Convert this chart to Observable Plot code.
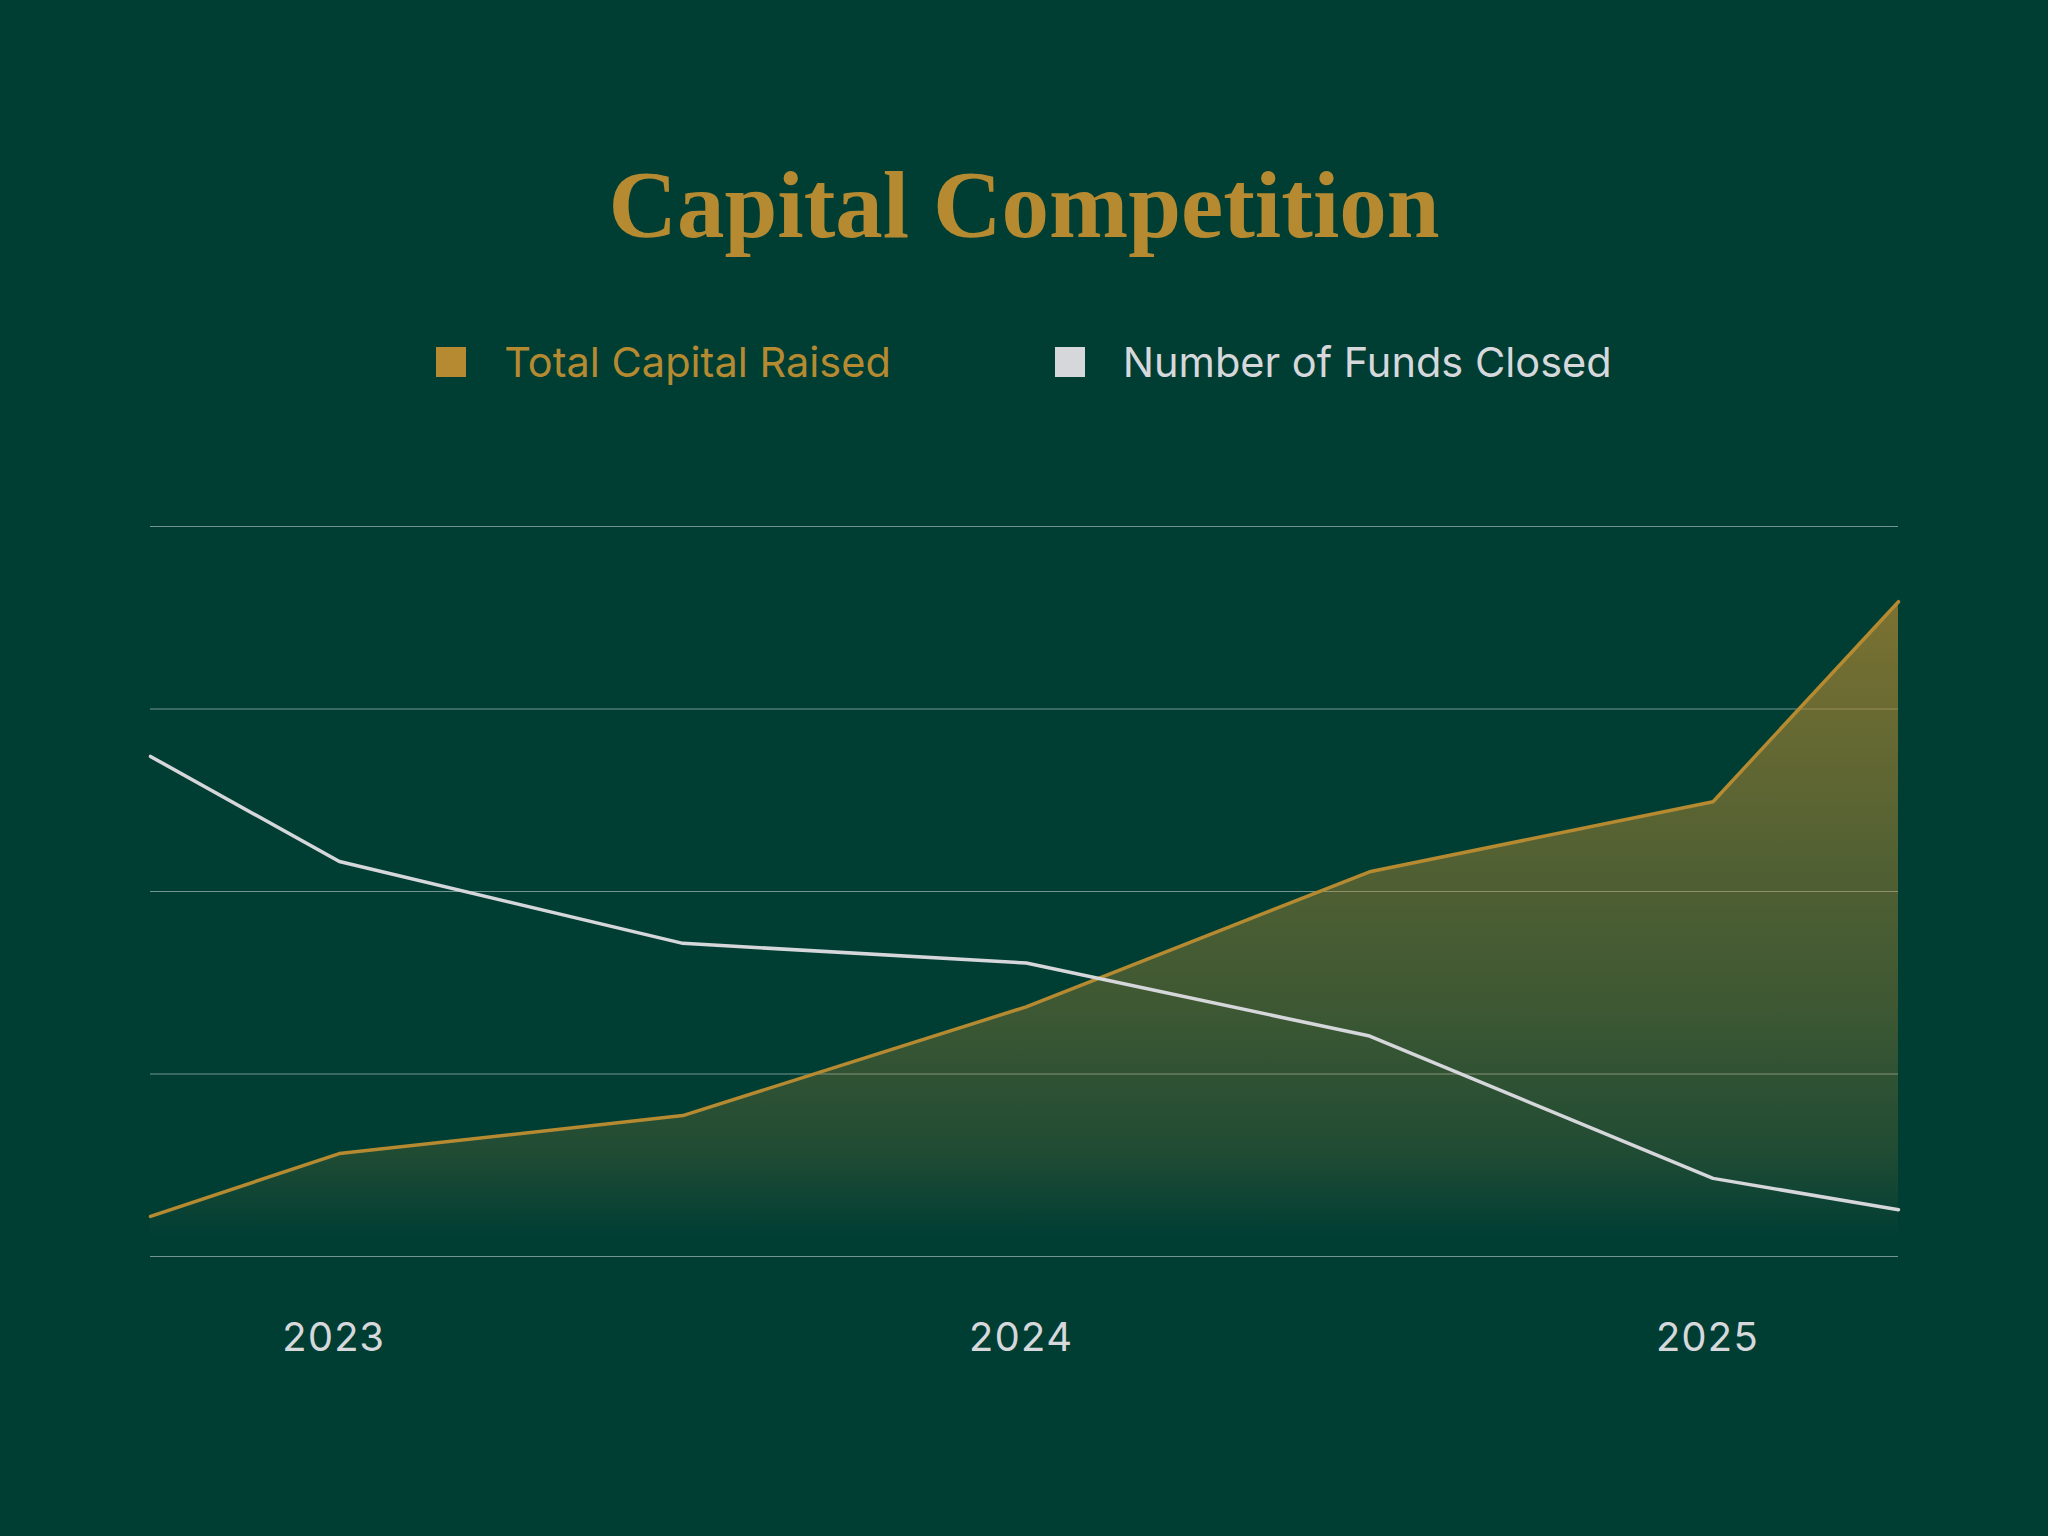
<!DOCTYPE html>
<html>
<head>
<meta charset="utf-8">
<script src="https://cdn.jsdelivr.net/npm/d3@7"></script>
<script src="https://cdn.jsdelivr.net/npm/@observablehq/plot@0.6"></script>
<style>
  html, body { margin: 0; padding: 0; background: #003e34; }
  #page { position: relative; width: 2048px; height: 1536px; background: #003e34; overflow: hidden; }
  #title {
    position: absolute; left: 0; width: 2048px; top: 158px; margin: 0;
    text-align: center; font-family: "Liberation Serif", serif; font-weight: 700;
    font-size: 95px; line-height: 95px; color: #b58a31; letter-spacing: 0px;
  }
  #legend {
    position: absolute; left: 0; width: 2048px; top: 341px; height: 42px;
    display: flex; justify-content: center; align-items: center; gap: 164px;
    font-family: "Inter", sans-serif; font-size: 41.5px; line-height: 42px;
  }
  .item { display: flex; align-items: center; gap: 38px; }
  .swatch { width: 30px; height: 30px; }
  #chart { position: absolute; left: 0; top: 430px; }
</style>
</head>
<body>
<div id="page">
  <h1 id="title">Capital Competition</h1>
  <div id="legend"></div>
  <div id="chart"></div>
</div>
<script>
// Half-yearly observations (fractional years), indexed to 0–100
const periods = [2022.725, 2023, 2023.5, 2024, 2024.5, 2025, 2025.27];
const capitalRaised = [5.5, 14.1, 19.3, 34.2, 52.7, 62.3, 89.7];
const fundsClosed = [68.5, 54.1, 42.9, 40.2, 30.2, 10.7, 6.4];
const yearTicks = [2023, 2024, 2025];
const gridValues = [0, 25, 50, 75, 100];

const seriesNames = ["Total Capital Raised", "Number of Funds Closed"];
const seriesColors = ["#b58a31", "#d6d7db"];
const legendTextColors = ["#b58a31", "#d6d8db"];

const capital = periods.map((p, i) => ({period: p, value: capitalRaised[i]}));
const funds = periods.map((p, i) => ({period: p, value: fundsClosed[i]}));

// Legend
const legend = document.getElementById("legend");
seriesNames.forEach((name, i) => {
  const item = document.createElement("div");
  item.className = "item";
  const sw = document.createElement("div");
  sw.className = "swatch";
  sw.style.background = seriesColors[i];
  const label = document.createElement("span");
  label.textContent = name;
  label.style.color = legendTextColors[i];
  item.append(sw, label);
  legend.append(item);
});

const chart = Plot.plot({
  width: 2048,
  height: 1106,
  marginLeft: 150,
  marginRight: 150,
  marginTop: 96,
  marginBottom: 280,
  style: {
    background: "transparent",
    color: "#d6d8db",
    fontFamily: "Inter, sans-serif",
    fontSize: "40px",
    overflow: "visible"
  },
  x: {domain: [periods[0], periods[periods.length - 1]]},
  y: {domain: [0, 100]},
  marks: [
    Plot.ruleY(gridValues, {stroke: "#ffffff", strokeOpacity: 0.45, strokeWidth: 1.2}),
    Plot.areaY(capital, {x: "period", y: "value", fill: "url(#capitalGradient)"}),
    Plot.lineY(capital, {x: "period", y: "value", stroke: seriesColors[0], strokeWidth: 3.5}),
    Plot.lineY(funds, {x: "period", y: "value", stroke: seriesColors[1], strokeWidth: 3.5}),
    Plot.axisX({ticks: yearTicks, tickFormat: d => String(d), tickSize: 0, tickPadding: 66, label: null, dx: -6}),
    Plot.axisY({ticks: [], label: null, tickSize: 0})
  ]
});

// Vertical fade for the capital area
const svg = d3.select(chart);
const grad = svg.insert("defs", ":first-child")
  .append("linearGradient")
  .attr("id", "capitalGradient")
  .attr("x1", 0).attr("y1", 0).attr("x2", 0).attr("y2", 1);
[[0, 0.68], [0.4, 0.45], [0.62, 0.34], [0.84, 0.18], [0.97, 0]].forEach(([o, a]) => {
  grad.append("stop").attr("offset", o).attr("stop-color", seriesColors[0]).attr("stop-opacity", a);
});

document.getElementById("chart").append(chart);
</script>
</body>
</html>
